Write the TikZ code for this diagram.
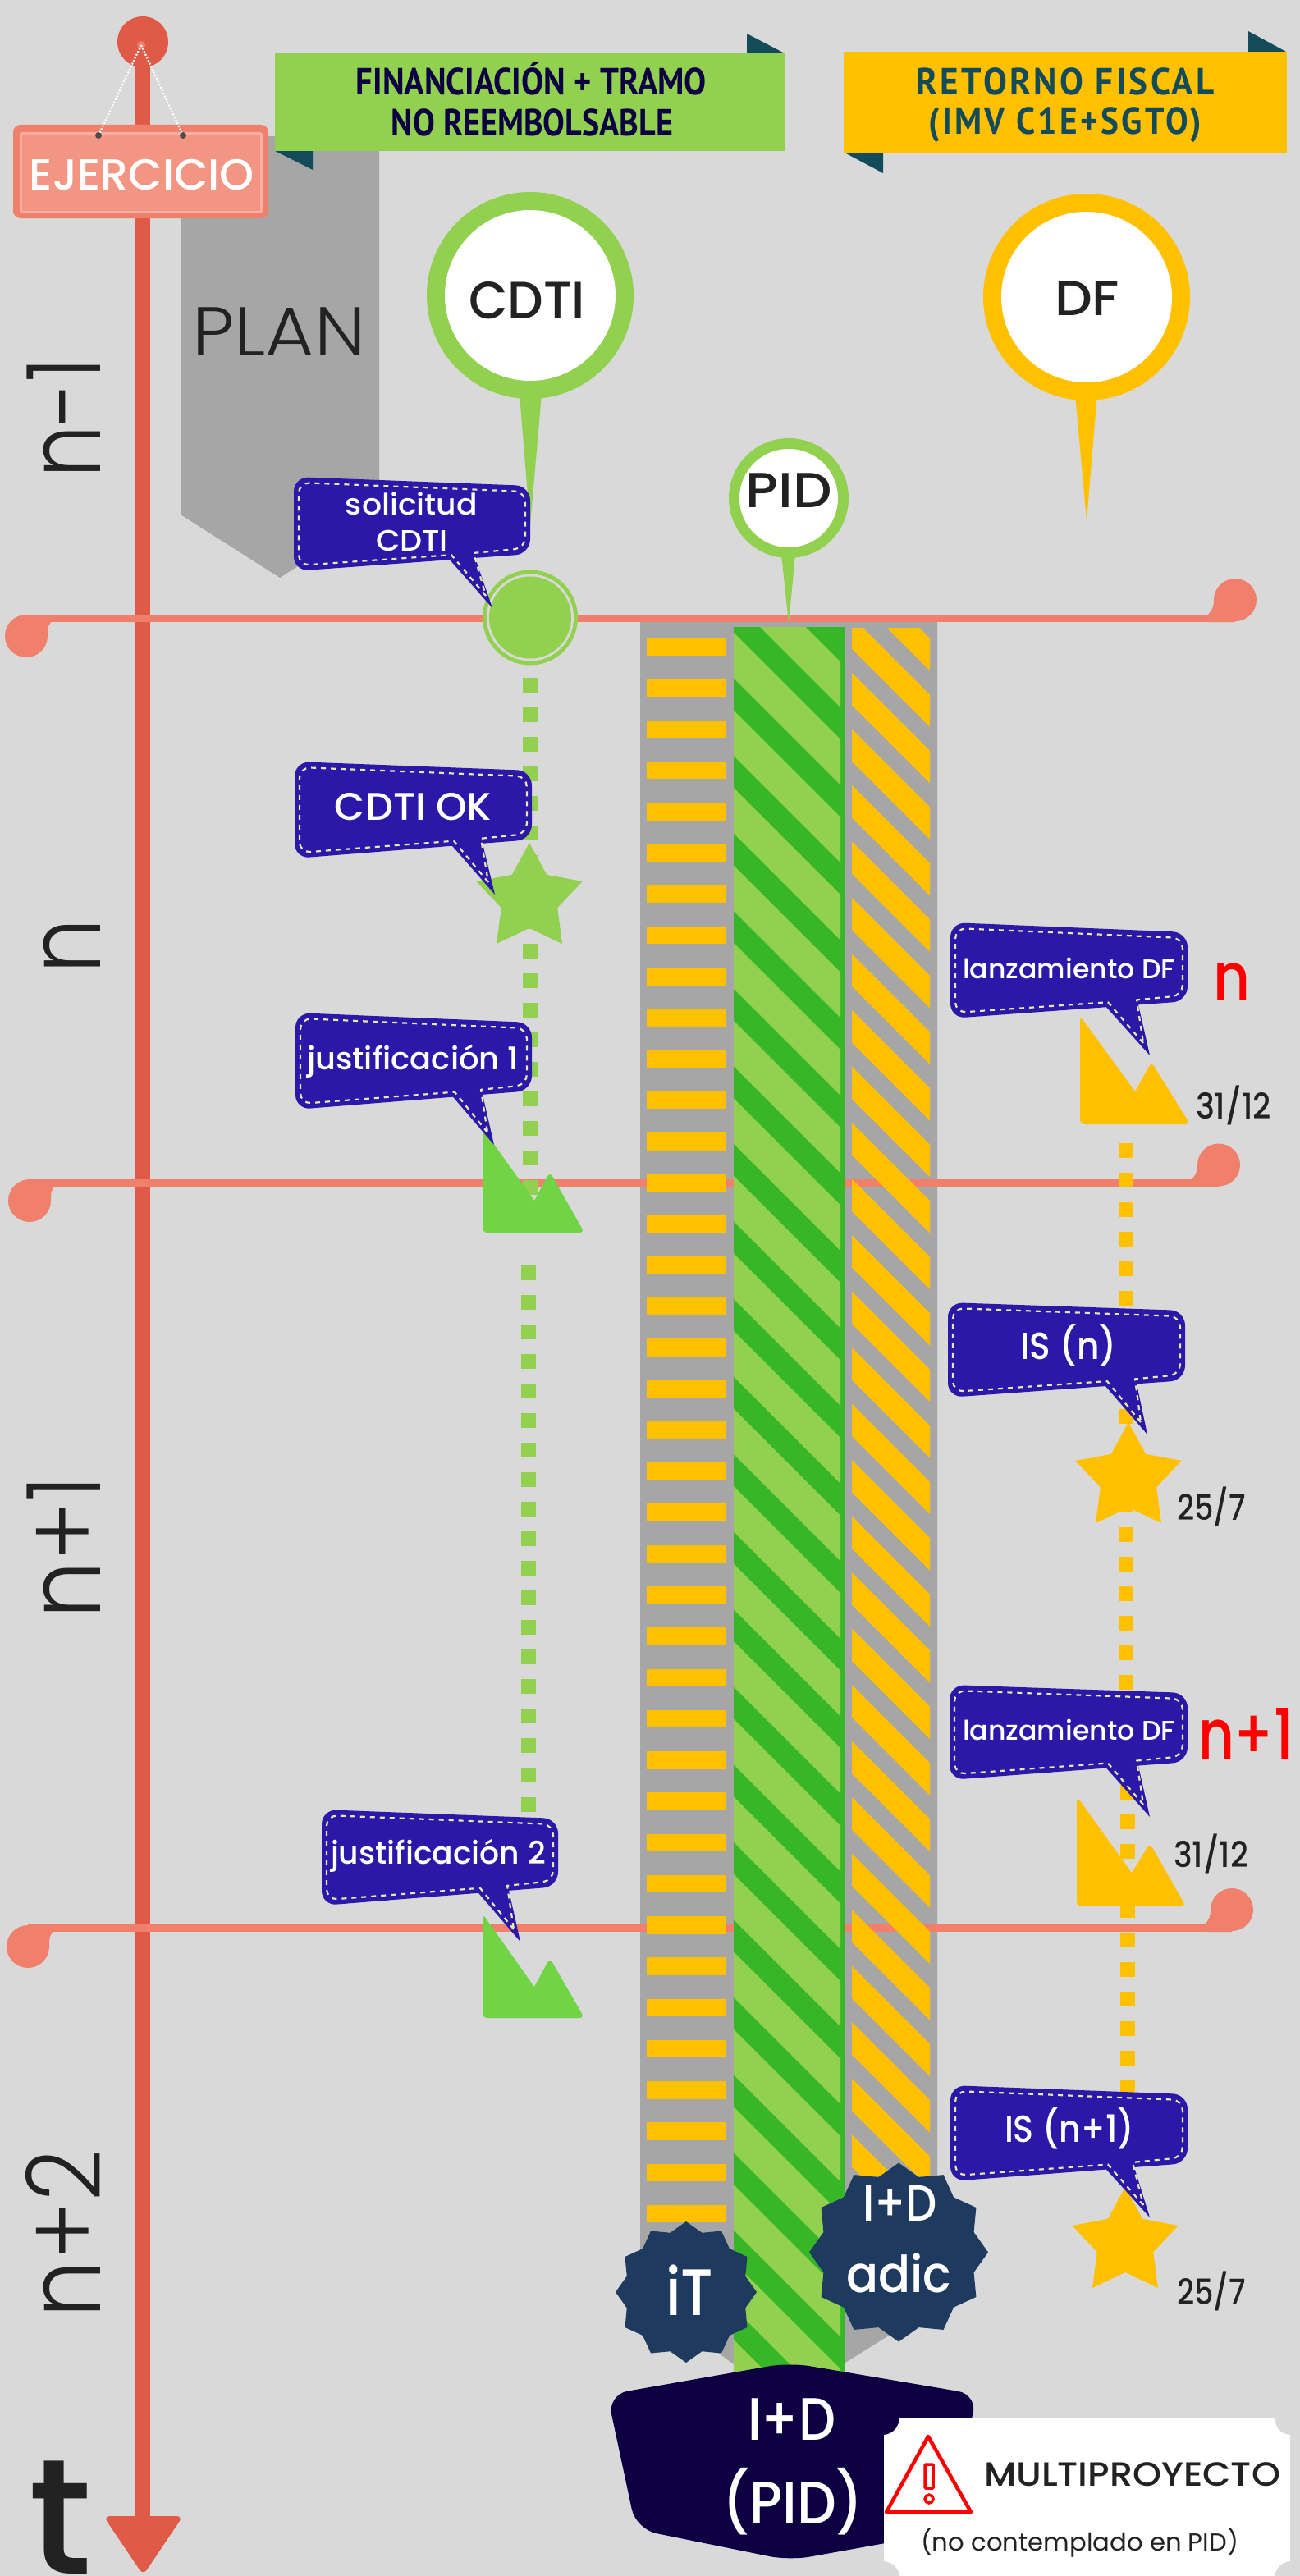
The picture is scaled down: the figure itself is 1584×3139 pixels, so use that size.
\documentclass[tikz,border=0pt]{standalone}
\usepackage{fontspec}
\usepackage{graphicx}
\usetikzlibrary{shapes.geometric}
\setmainfont{Poppins}
\newfontfamily\plight{Poppins Light}
\newfontfamily\pmed{Poppins Medium}
\newfontfamily\ptb{PT Sans}[BoldFont={PT Sans Bold}]
\newfontfamily\ptw{PT Sans Bold}[LetterSpace=8]
\definecolor{bgc}{HTML}{D9D9D9}
\definecolor{axisc}{HTML}{E05A48}
\definecolor{salm}{HTML}{F0806C}
\definecolor{salmin}{HTML}{F39583}
\definecolor{salmlt}{HTML}{F8AFA1}
\definecolor{grn}{HTML}{92D050}
\definecolor{dgrn}{HTML}{37B728}
\definecolor{tgrn}{HTML}{70D444}
\definecolor{yel}{HTML}{FFC000}
\definecolor{gry}{HTML}{A6A6A6}
\definecolor{teal}{HTML}{134B5A}
\definecolor{navy}{HTML}{0C0042}
\definecolor{blu}{HTML}{2B18A8}
\definecolor{stch}{HTML}{E8E8A8}
\definecolor{burst}{HTML}{1F3A5F}
\definecolor{ink}{HTML}{222222}
\newcommand\tw[2]{\resizebox{#1pt}{\height}{#2}}
\newcommand\fs[1]{\fontsize{#1pt}{#1pt}\selectfont}
% x1 x2 yLT yLB yRT yRB tailA tailB (tipx,tipy)
\newcommand\callout[9]{%
 \pgfmathsetmacro\ya{#4+(#6-#4)*(#7-#1)/(#2-#1)}%
 \pgfmathsetmacro\yb{#4+(#6-#4)*(#8-#1)/(#2-#1)}%
 \path #9 ++(-8,-15) coordinate (itip);
 \fill[blu,rounded corners=18pt] (#1,#3) -- (#2,#5) -- (#2,#6) [sharp corners] -- (#8,\yb) -- #9 -- (#7,\ya) [rounded corners=18pt] -- (#1,#4) -- cycle;
 \draw[stch,line width=2.2pt,dash pattern=on 6pt off 6pt,line join=round]
   (itip) -- ({#7+2},{\ya-6}) [rounded corners=13pt] -- ({#1+6},{#4-7}) -- ({#1+6},{#3+7}) -- ({#2-6},{#5+7}) -- ({#2-6},{#6-7}) [sharp corners] -- ({#8-2},{\yb-6}) -- (itip);
}
\tikzset{
 lbl/.style={anchor=base,inner sep=0pt,outer sep=0pt},
 ringnode/.style={circle,inner sep=0pt,outer sep=0pt},
 burststar/.style={star,star points=12,star point ratio=1.15,fill=burst,inner sep=0pt},
 fivestar/.style={star,star points=5,star point ratio=1.89,inner sep=0pt,minimum size=136pt},
 salmline/.style={draw=salm,line width=9pt},
 gdash/.style={draw=grn,line width=18pt,dash pattern=on 18pt off 18pt},
 ydash/.style={draw=yel,line width=18pt,dash pattern=on 18pt off 18pt},
}
\begin{document}
\begin{tikzpicture}[x=1pt,y=-1pt]
\useasboundingbox (0,0) rectangle (1584,3139);
\clip (0,0) rectangle (1584,3139);
\fill[bgc] (0,0) rectangle (1584,3139);

% plan
\fill[gry] (220,166) -- (462,166) -- (462,627) -- (341,704) -- (220,627) -- cycle;
\node[lbl] (plan) at (340,433) {\plight\fs{84}\color{ink}\tw{211}{PLAN}};

% banners
\fill[teal] (910,41) -- (956,65) -- (910,65) -- cycle;
\fill[teal] (335,184) -- (381,207) -- (381,184) -- cycle;
\fill[grn] (335,65) rectangle (956,184);
\node[lbl] (fin1) at (647.5,116) {\ptb\bfseries\fs{46}\color{navy}\tw{427}{FINANCIACIÓN + TRAMO}};
\node[lbl] (fin2) at (648.5,166) {\ptb\bfseries\fs{46}\color{navy}\tw{343}{NO REEMBOLSABLE}};
\fill[teal] (1521,38) -- (1567,63) -- (1521,63) -- cycle;
\fill[teal] (1029,186) -- (1076,211) -- (1076,186) -- cycle;
\fill[yel] (1028,63) rectangle (1568,186);
\node[lbl] (ret1) at (1298,116) {\ptw\fs{46}\color{teal}\tw{363}{RETORNO FISCAL}};
\node[lbl] (ret2) at (1298,164) {\ptw\fs{46}\color{teal}\tw{333}{(IMV C1E+SGTO)}};

% axis
\fill[axisc] (174,51) circle (31);
\coordinate (axt) at (174,60);
\coordinate (axb) at (174,3070);
\draw[axisc,line width=18pt] (axt) -- (axb);
\fill[axisc,rounded corners=8pt] (126,3066) -- (223,3066) -- (174.5,3138) -- cycle;
\node[lbl] (tletter) at (74,3136) {\pmed\fs{200}\color{ink}\tw{78}{t}};

% period labels
\node[lbl,rotate=90] (p1) at (122,509) {\plight\fs{125}\color{ink}\tw{146}{n-1}};
\node[lbl,rotate=90] (p2) at (122,1153) {\plight\fs{125}\color{ink}\tw{67}{n}};
\node[lbl,rotate=90] (p3) at (122,1885) {\plight\fs{125}\color{ink}\tw{174}{n+1}};
\node[lbl,rotate=90] (p4) at (122,2722) {\plight\fs{125}\color{ink}\tw{204}{n+2}};

% gray bars
\fill[gry] (780,758) -- (1142,758) -- (1142,2809) -- (1030,2879) -- (894,2881) -- (780,2797) -- cycle;

% year lines
\coordinate (l1a) at (40,753.5); \coordinate (l1b) at (1490,753.5);
\coordinate (l2a) at (40,1441.5); \coordinate (l2b) at (1470,1441.5);
\coordinate (l3a) at (40,2349.5); \coordinate (l3b) at (1486,2349.5);
\draw[salmline] (l1a) -- (l1b);
\draw[salmline] (l2a) -- (l2b);
\draw[salmline] (l3a) -- (l3b);
% curls: left
\foreach \cx/\cy/\yc in {32/775/753.5,36/1463/1441.5,34/2372/2349.5}{
  \fill[salm] (\cx,\cy) circle (26);
  \fill[salm] (\cx,{\yc-4.5}) -- ({\cx+30},{\yc-4.5}) -- ({\cx+30},{\yc+4.5}) .. controls ({\cx+26},{\yc+10}) and ({\cx+26},{\cy-8}) .. ({\cx+26},\cy) -- (\cx,\cy) -- cycle;
}
% curls: right
\foreach \cx/\cy/\yc in {1505/731/753.5,1485/1419.5/1441.5,1501/2327/2349.5}{
  \fill[salm] (\cx,\cy) circle (26);
  \fill[salm] (\cx,{\yc+4.5}) -- ({\cx-33},{\yc+4.5}) -- ({\cx-33},{\yc-4.5}) .. controls ({\cx-28},{\yc-10}) and ({\cx-26},{\cy+8}) .. ({\cx-26},\cy) -- (\cx,\cy) -- cycle;
}

% yellow rungs
\foreach \k in {0,...,38}{
  \fill[yel] (788,{777+50.26*\k}) rectangle (884,{798.5+50.26*\k});
}
% green hatched bar
\fill[dgrn] (894,764) rectangle (1030,2900);
\begin{scope}
 \clip (894,764) rectangle (1024,2900);
 \foreach \k in {-1,0,...,22}{
  \pgfmathsetmacro\c{-162+94.55*\k}
  \fill[grn] (880,{880+\c+39}) -- (1040,{1040+\c+39}) -- (1040,{1040+\c+94.55}) -- (880,{880+\c+94.55}) -- cycle;
 }
\end{scope}
% yellow hatched bar
\begin{scope}
 \clip (1038,765) rectangle (1133,2651);
 \foreach \k in {-1,0,...,32}{
  \pgfmathsetmacro\c{-355+68.5*\k}
  \fill[yel] (1030,{1030+\c}) -- (1140,{1140+\c}) -- (1140,{1140+\c+39.5}) -- (1030,{1030+\c+39.5}) -- cycle;
 }
\end{scope}

% dotted tracks
\coordinate (g1a) at (646,826); \coordinate (g1b) at (646,1456);
\coordinate (g2a) at (644,1542); \coordinate (g2b) at (644,2208);
\coordinate (y1a) at (1372,1393); \coordinate (y1b) at (1372,2059);
\coordinate (y2a) at (1374,2175); \coordinate (y2b) at (1374,2553);
\draw[gdash] (g1a) -- (g1b);
\draw[gdash] (g2a) -- (g2b);
\draw[ydash] (y1a) -- (y1b);
\draw[ydash] (y2a) -- (y2b);

% pins
\fill[grn] (633,480) -- (660,480) -- (646,640) -- cycle;
\node[ringnode,fill=grn,minimum size=252pt] (cdtiring) at (646,360) {};
\node[ringnode,fill=white,minimum size=208pt] (cdtiin) at (646,360) {};
\node[lbl] (cdtitxt) at (642,388) {\pmed\fs{64}\color{ink}\tw{142}{CDTI}};
\fill[yel] (1310,480) -- (1337,480) -- (1324,635) -- cycle;
\node[ringnode,fill=yel,minimum size=252pt] (dfring) at (1324,362) {};
\node[ringnode,fill=white,minimum size=208pt] (dfin) at (1324,362) {};
\node[lbl] (dftxt) at (1324.5,384) {\pmed\fs{60}\color{ink}\tw{79}{DF}};
\fill[grn] (952,675) -- (969,675) -- (961,760) -- cycle;
\node[ringnode,fill=grn,minimum size=146pt] (pidring) at (961,607) {};
\node[ringnode,fill=white,minimum size=120pt] (pidin) at (961,607) {};
\node[lbl] (pidtxt) at (961,618) {\pmed\fs{60}\color{ink}\tw{105}{PID}};

% milestone dot
\node[ringnode,fill=grn,minimum size=116pt] (dot1) at (646,752.5) {};
\node[ringnode,fill=bgc,minimum size=106pt] (dot2) at (646,752.5) {};
\node[ringnode,fill=grn,minimum size=100pt] (dot3) at (646,752.5) {};

% stars
\node[fivestar,fill=grn] (st1) at (645,1095) {};
\node[fivestar,fill=yel] (st2) at (1375,1801) {};
\node[fivestar,fill=yel] (st3) at (1371,2733) {};

% mountains
\fill[tgrn,rounded corners=6pt] (588,1375) -- (588,1502) -- (712,1502) -- (670,1428) [sharp corners] -- (651,1463) [rounded corners=6pt] -- cycle;
\fill[tgrn,rounded corners=6pt] (588,2332) -- (588,2459) -- (712,2459) -- (670,2386) [sharp corners] -- (651,2421) [rounded corners=6pt] -- cycle;
\fill[yel,rounded corners=6pt] (1316,1238) -- (1316,1370) -- (1450,1370) -- (1403,1294) [sharp corners] -- (1383,1330) [rounded corners=6pt] -- cycle;
\fill[yel,rounded corners=6pt] (1312,2189) -- (1312,2323) -- (1445,2323) -- (1401,2246) [sharp corners] -- (1379,2282) [rounded corners=6pt] -- cycle;

% callouts
\callout{358}{646}{581}{696}{592}{675}{548}{579}{(600,741)}
\node[lbl] (c1a) at (501.5,627.5) {\pmed\fs{36}\color{white}\tw{161}{solicitud}};
\node[lbl] (c1b) at (502,671) {\pmed\fs{36}\color{white}\tw{88}{CDTI}};
\callout{359}{648}{928}{1046}{939}{1023}{551}{588}{(603,1090)}
\node[lbl] (c2) at (503.5,999) {\pmed\fs{47}\color{white}\tw{191}{CDTI OK}};
\callout{360}{648}{1234}{1352}{1246}{1329}{552}{588}{(602,1395)}
\node[lbl] (c3) at (503,1303) {\pmed\fs{38}\color{white}\tw{258}{justificación 1}};
\callout{392}{680}{2205}{2322}{2216}{2299}{583}{620}{(634,2366)}
\node[lbl] (c4) at (534,2271) {\pmed\fs{38}\color{white}\tw{262}{justificación 2}};
\callout{1158}{1447}{1124}{1241}{1136}{1220}{1348}{1387}{(1401,1286)}
\node[lbl] (c5) at (1302.5,1192) {\pmed\fs{33}\color{white}\tw{259}{lanzamiento DF}};
\callout{1155}{1444}{1587}{1703}{1597}{1682}{1347}{1385}{(1398,1748)}
\node[lbl] (c6) at (1302,1656) {\pmed\fs{46}\color{white}\tw{117}{IS (n)}};
\callout{1157}{1447}{2053}{2169}{2063}{2147}{1348}{1387}{(1401,2214)}
\node[lbl] (c7) at (1302.5,2120) {\pmed\fs{33}\color{white}\tw{259}{lanzamiento DF}};
\callout{1158}{1447}{2541}{2658}{2552}{2636}{1348}{1382}{(1401,2702)}
\node[lbl] (c8) at (1303,2610) {\pmed\fs{46}\color{white}\tw{158}{IS (n+1)}};

% dates and red labels
\node[lbl] (d1) at (1503,1363) {\pmed\fs{43}\color{ink}\tw{92}{31/12}};
\node[lbl] (d2) at (1476,1852) {\pmed\fs{43}\color{ink}\tw{84}{25/7}};
\node[lbl] (d3) at (1475.5,2275) {\pmed\fs{43}\color{ink}\tw{91}{31/12}};
\node[lbl] (d4) at (1476,2808) {\pmed\fs{43}\color{ink}\tw{84}{25/7}};
\node[lbl] (r1) at (1500.5,1218) {\pmed\fs{80}\color{red}\tw{45}{n}};
\node[lbl] (r2) at (1518,2143) {\pmed\fs{85}\color{red}\tw{116}{n+1}};

% starbursts
\node[burststar,minimum size=172pt] (b1) at (836,2793) {};
\node[lbl] (b1t) at (840,2821) {\pmed\fs{80}\color{white}\tw{58}{iT}};
\node[burststar,minimum size=218pt] (b2) at (1095,2744.5) {};
\node[lbl] (b2a) at (1096.5,2706) {\pmed\fs{62}\color{white}\tw{91}{I+D}};
\node[lbl] (b2b) at (1095,2793) {\pmed\fs{62}\color{white}\tw{128}{adic}};

% I+D (PID) plate
\fill[navy,rounded corners=25pt] (962,2879) -- (1192,2918) -- (1145,3087) -- (962,3120) -- (775,3082) -- (740,2918) -- cycle;
\node[lbl] (m1) at (964.5,2973) {\pmed\fs{73}\color{white}\tw{107}{I+D}};
\node[lbl] (m2) at (966,3075) {\pmed\fs{73}\color{white}\tw{172}{(PID)}};

% ticket
\fill[white] (1096,2947) -- (1553,2947) .. controls (1554,2958) and (1560,2966) .. (1572,2967) -- (1572,3121) .. controls (1560,3122) and (1555,3130) .. (1553,3139) -- (1096,3139) .. controls (1095,3130) and (1088,3122) .. (1077,3121) -- (1077,2967) .. controls (1088,2966) and (1095,2958) .. (1096,2947) -- cycle;
\draw[red,line width=4.5pt,line join=round] (1131,2969) -- (1183,3061) -- (1080,3061) -- cycle;
\draw[red,line width=3.5pt,rounded corners=1pt] (1127,3003) rectangle (1137,3032);
\draw[red,line width=3.5pt] (1132,3045) circle (5);
\node[lbl] (w1) at (1379.5,3029) {\pmed\fs{41}\color{ink}\tw{361}{MULTIPROYECTO}};
\node[lbl] (w2) at (1315.5,3108) {\fs{30}\color{ink}\tw{387}{(no contemplado en PID)}};

% EJERCICIO sign
\fill[salm,rounded corners=9pt] (16,152) rectangle (327,266);
\fill[salmlt,rounded corners=3pt] (24,161) rectangle (320,260);
\fill[salmin] (27,164) rectangle (317,257);
\coordinate (pin) at (172,55);
\fill[salm] (pin) circle (5);
\node[ringnode,fill=black!70,minimum size=8pt] (h1) at (120,165) {};
\node[ringnode,fill=black!70,minimum size=8pt] (h2) at (223,165) {};
\draw[white,line width=2.2pt,dash pattern=on 2pt off 2pt] (pin) -- (h1);
\draw[white,line width=2.2pt,dash pattern=on 2pt off 2pt] (pin) -- (h2);
\node[lbl] (sign) at (173,231) {\pmed\fs{53}\color{white}\tw{274}{EJERCICIO}};
\end{tikzpicture}
\end{document}
